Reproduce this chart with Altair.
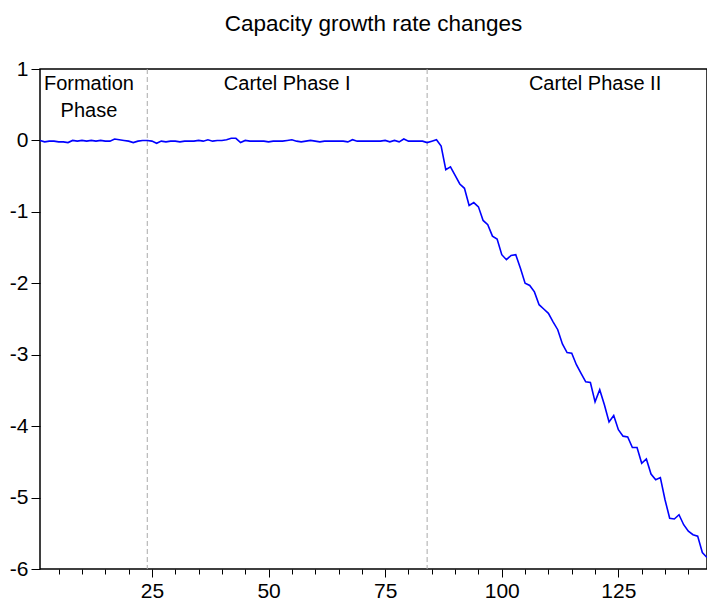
import altair as alt
import pandas as pd

# ---- data ----
periods = list(range(1, 145))
flat_part = [
    0.00, -0.02, -0.01, -0.01, -0.02, -0.02, -0.03, 0.00, -0.01, 0.00,
    -0.01, 0.00, -0.01, 0.00, -0.01, -0.01, 0.02, 0.01, 0.00, -0.01,
    -0.03, -0.01, 0.00, 0.00, -0.01, -0.04, -0.01, -0.02, -0.01, -0.01,
    -0.02, -0.01, -0.01, -0.01, 0.00, -0.01, 0.01, -0.01, 0.00, 0.00,
    0.01, 0.03, 0.03, -0.03, 0.00, -0.01, -0.01, -0.01, -0.01, -0.02,
    -0.01, -0.01, -0.01, 0.00, 0.01, -0.01, -0.02, -0.01, 0.00, -0.01,
    -0.02, -0.01, -0.01, -0.01, -0.01, -0.01, -0.02, 0.01, -0.01, -0.01,
    -0.01, -0.01, -0.01, -0.01, 0.00, -0.02, 0.00, -0.02, 0.02, -0.01,
    -0.01, -0.01, -0.01, -0.03, -0.01, 0.01,
]
decline_part = [
    -0.08, -0.41, -0.37, -0.49, -0.61, -0.67, -0.91, -0.87, -0.93, -1.12,
    -1.18, -1.34, -1.38, -1.60, -1.67, -1.61, -1.60, -1.79, -2.00, -2.03,
    -2.12, -2.30, -2.36, -2.42, -2.54, -2.65, -2.85, -2.97, -2.98, -3.14,
    -3.26, -3.38, -3.39, -3.66, -3.49, -3.70, -3.94, -3.85, -4.05, -4.14,
    -4.15, -4.30, -4.30, -4.52, -4.46, -4.67, -4.75, -4.72, -5.03, -5.29,
    -5.30, -5.24, -5.38, -5.47, -5.52, -5.54, -5.77, -5.84,
]
growth = flat_part + decline_part

phase_breaks = [24, 84]
phase_labels = ["Formation\nPhase", "Cartel Phase I", "Cartel Phase II"]
phase_label_x = [11.5, 54, 120]

x_ticks = list(range(5, 145, 5))
y_ticks = [-6, -5, -4, -3, -2, -1, 0, 1]

df = pd.DataFrame({"t": periods, "v": growth})
df_breaks = pd.DataFrame({"t": phase_breaks})
df_labels = pd.DataFrame({"t": phase_label_x, "label": phase_labels})

FONT = "Liberation Sans"

x_scale = alt.Scale(domain=[1, 144], nice=False, zero=False)
y_scale = alt.Scale(domain=[-6, 1], nice=False, zero=False)

x_axis = alt.Axis(
    values=x_ticks,
    labelExpr="datum.value % 25 === 0 ? datum.label : ''",
    labelOverlap=False,
    tickSize={"condition": {"test": "datum.value % 25 === 0", "value": 8}, "value": 5},
    labelPadding=3,
    domain=False,
    grid=False,
)
y_axis = alt.Axis(
    values=y_ticks,
    labelExpr="'' + datum.value",
    labelOverlap=False,
    tickSize=9,
    labelPadding=3,
    domain=False,
    grid=False,
)

line = alt.Chart(df).mark_line(color="#0000ff", strokeWidth=1.6).encode(
    x=alt.X("t:Q", scale=x_scale, title=None, axis=x_axis),
    y=alt.Y("v:Q", scale=y_scale, title=None, axis=y_axis),
)

rules = alt.Chart(df_breaks).mark_rule(
    color="#aaaaaa", strokeDash=[5, 3], strokeWidth=1
).encode(x=alt.X("t:Q", scale=x_scale, title=None, axis=x_axis))

texts = alt.Chart(df_labels).mark_text(
    font=FONT, fontSize=20, lineBreak="\n", baseline="top", align="center",
    lineHeight=27, color="black"
).encode(
    x=alt.X("t:Q", scale=x_scale, title=None, axis=x_axis),
    y=alt.value(5),
    text="label:N",
)

chart = alt.layer(rules, line, texts).properties(
    width=667,
    height=500,
    title=alt.Title(
        "Capacity growth rate changes",
        fontSize=22.5,
        font=FONT,
        fontWeight="normal",
        anchor="middle",
        color="black",
        offset=23,
    ),
    autosize=alt.AutoSizeParams(type="none"),
    padding={"left": 32, "top": 61, "right": 0, "bottom": 35},
).configure_view(
    stroke="black", strokeWidth=1.5
).configure_axis(
    labelFont=FONT,
    labelFontSize=21,
    labelColor="black",
    tickColor="black",
    tickWidth=1,
)

chart.save("out.html", embed_options={"renderer": "svg", "actions": False})
